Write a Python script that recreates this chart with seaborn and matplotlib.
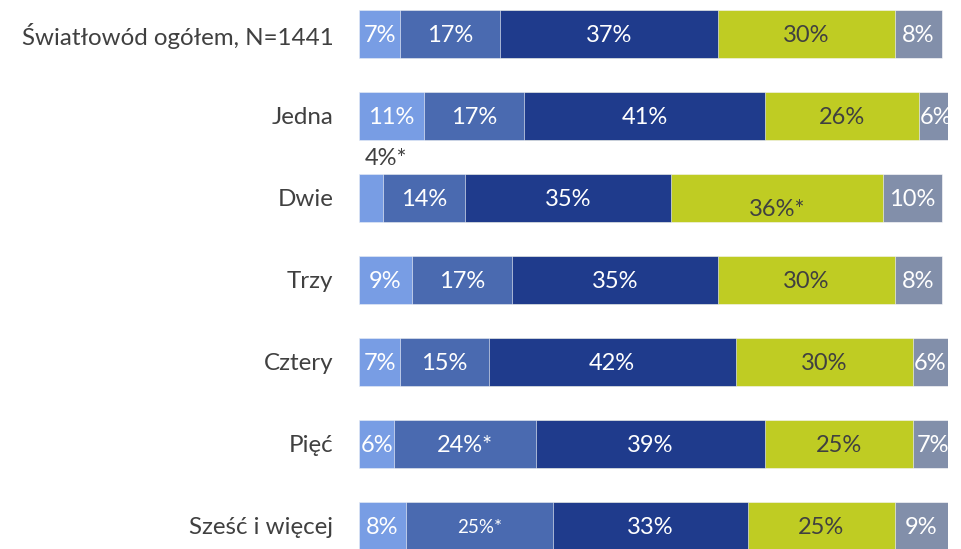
import matplotlib
matplotlib.use("Agg")
import matplotlib.pyplot as plt
import numpy as np
import pandas as pd
import seaborn as sns

# Category rows (top to bottom)
categories = ["Światłowód ogółem, N=1441", "Jedna", "Dwie", "Trzy",
              "Cztery", "Pięć", "Sześć i więcej"]

# Share of answers per segment, in percent
seg1 = [7, 11, 4, 9, 7, 6, 8]
seg2 = [17, 17, 14, 17, 15, 24, 25]
seg3 = [37, 41, 35, 35, 42, 39, 33]
seg4 = [30, 26, 36, 30, 30, 25, 25]
seg5 = [8, 6, 10, 8, 6, 7, 9]

# Value labels (asterisks mark statistically notable shares)
lab1 = ["7%", "11%", "4%*", "9%", "7%", "6%", "8%"]
lab2 = ["17%", "17%", "14%", "17%", "15%", "24%*", "25%*"]
lab3 = ["37%", "41%", "35%", "35%", "42%", "39%", "33%"]
lab4 = ["30%", "26%", "36%*", "30%", "30%", "25%", "25%"]
lab5 = ["8%", "6%", "10%", "8%", "6%", "7%", "9%"]

colors = ["#789DE4", "#4A6AB0", "#1F3B8C", "#BFCC23", "#828FAA"]
label_colors = ["white", "white", "white", "#404040", "white"]
grey_text = "#404040"

sns.set_theme(style="white")
plt.rcParams["font.family"] = ["Lato", "DejaVu Sans"]

segments = [seg1, seg2, seg3, seg4, seg5]
labels = [lab1, lab2, lab3, lab4, lab5]

df = pd.DataFrame({"category": categories})
cum = np.cumsum(np.array(segments, dtype=float), axis=0)
for k in range(5):
    df[f"cum{k}"] = cum[k]

fig = plt.figure(figsize=(9.61, 5.49), dpi=100)
ax = fig.add_axes([359 / 961, 0, 589 / 961, 1])

bar_h = 48 / 82
# Draw cumulative totals from the outermost segment inwards so they stack
for k in range(4, -1, -1):
    sns.barplot(data=df, x=f"cum{k}", y="category", order=categories,
                color=colors[k], saturation=1, width=bar_h,
                edgecolor="white", linewidth=0.4, ax=ax)

ax.set_xlim(0, 100)
ax.set_ylim((549 - 34) / 82, -34 / 82)
ax.set_xlabel("")
ax.set_ylabel("")
ax.set_xticks([])
ax.tick_params(axis="y", length=0, pad=18.5, labelsize=17.4, labelcolor=grey_text)
for s in ax.spines.values():
    s.set_visible(False)

# Segment value labels
for i in range(len(categories)):
    left = 0.0
    for k in range(5):
        w = segments[k][i]
        txt = labels[k][i]
        x = left + w / 2
        y = i
        size = 17
        color = label_colors[k]
        if txt == "4%*":
            # too narrow for the segment: place above the bar
            ax.text(left + 0.9, i - 0.48, txt, ha="left", va="center",
                    fontsize=size, color=grey_text)
        else:
            if txt == "36%*":
                y = i + 0.12
            if txt == "25%*":
                size = 13.5
            ax.text(x, y + 0.02, txt, ha="center", va="center",
                    fontsize=size, color=color)
        left += w

fig.savefig("out.png", dpi=100)
